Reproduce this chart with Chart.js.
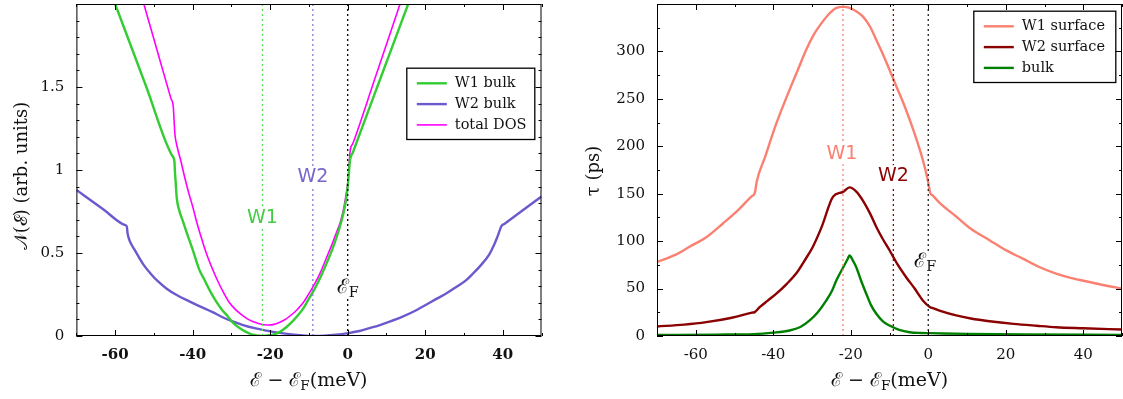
<!DOCTYPE html>
<html>
<head>
<meta charset="utf-8">
<title>DOS and lifetime</title>
<script src="https://cdn.jsdelivr.net/npm/chart.js@4.4.1/dist/chart.umd.min.js"></script>
<style>
  html, body { margin: 0; padding: 0; background: #fff; }
  #wrap { position: relative; width: 1123px; height: 399px; }
  #dosChart { position: absolute; left: 0; top: 0; width: 560px; height: 399px; }
  #tauChart { position: absolute; left: 560px; top: 0; width: 563px; height: 399px; }
</style>
</head>
<body>
<div id="wrap">
  <canvas id="dosChart" width="560" height="399"></canvas>
  <canvas id="tauChart" width="563" height="399"></canvas>
</div>
<script>
// ==================== DATA ====================
// left panel: density of states vs E - EF (meV)
const w1BulkE = [-60, -52, -45.3, -44.7, -44.6, -44.4, -44.1, -43.5, -42.5, -41.5, -40, -38.3, -37, -35.5, -34, -32.5, -31, -29.5, -28, -26.5, -25, -23.5, -22, -20.5, -19, -17.5, -16, -14.5, -13, -11.5, -10, -8.5, -7, -5.5, -4, -2.8, -2, -1.2, -0.5, 0, 0.3, 0.6, 1.3, 8, 15.6];
const w1BulkN = [2.0, 1.503, 1.087, 1.05, 1.0, 0.93, 0.83, 0.76, 0.69, 0.62, 0.52, 0.40, 0.34, 0.27, 0.21, 0.16, 0.12, 0.077, 0.05, 0.028, 0.012, 0.003, 0, 0.003, 0.01, 0.025, 0.05, 0.082, 0.12, 0.165, 0.225, 0.285, 0.355, 0.435, 0.52, 0.6, 0.66, 0.73, 0.81, 0.9, 0.98, 1.06, 1.104, 1.524, 2.0];

const w2BulkE = [-70, -63, -57.6, -57, -56.8, -56.5, -56, -55, -54, -52.7, -51, -49, -46.7, -44, -41, -38.3, -35, -32, -29.5, -27, -24, -20.9, -18, -15, -12.3, -10, -8.5, -6, -3, -0.3, 3, 6, 8.3, 11, 14, 16.9, 20, 23, 25.5, 28, 30.5, 32.4, 34.5, 36.5, 37.6, 38.5, 39.2, 39.7, 40.4, 45, 50];
const w2BulkN = [0.88, 0.762, 0.67, 0.66, 0.62, 0.59, 0.56, 0.52, 0.48, 0.43, 0.38, 0.33, 0.285, 0.245, 0.21, 0.18, 0.145, 0.11, 0.086, 0.066, 0.047, 0.032, 0.02, 0.011, 0.005, 0.001, 0, 0.002, 0.008, 0.016, 0.03, 0.05, 0.066, 0.088, 0.115, 0.146, 0.185, 0.225, 0.257, 0.295, 0.335, 0.378, 0.43, 0.49, 0.54, 0.59, 0.635, 0.663, 0.675, 0.754, 0.84];

const totalE = [-52.6, -49, -45.6, -45, -44.8, -44.6, -44, -43, -42, -41, -40, -39, -38, -36.5, -35, -33.5, -32, -30.5, -29, -27.5, -26, -24.5, -23, -21.5, -20.5, -19, -17.5, -16, -14.5, -13, -11.5, -10, -8.5, -7, -5.5, -4, -2.8, -2, -1.2, -0.5, 0, 0.3, 0.6, 1.3, 7, 13.5];
const totalN = [2.0, 1.706, 1.43, 1.38, 1.3, 1.22, 1.14, 1.05, 0.95, 0.86, 0.78, 0.69, 0.61, 0.5, 0.41, 0.33, 0.26, 0.2, 0.16, 0.13, 0.105, 0.087, 0.075, 0.068, 0.066, 0.07, 0.083, 0.102, 0.128, 0.16, 0.2, 0.255, 0.315, 0.385, 0.47, 0.555, 0.63, 0.68, 0.75, 0.84, 0.92, 1.0, 1.11, 1.158, 1.55, 2.0];

// right panel: lifetime tau (ps) vs E - EF (meV)
const w1SurfE = [-70, -65, -61.6, -57, -53, -49, -45.5, -44.8, -44.2, -42, -40.1, -38, -35.8, -33.5, -31.5, -29.5, -27.2, -25.5, -23.7, -22, -20.3, -18.5, -16.9, -15, -13.4, -11.7, -10, -8, -5.7, -3.5, -1.4, -0.1, 0.5, 1.2, 3, 7.2, 11, 15.8, 20, 24.4, 28.5, 33, 37, 41.6, 46, 50];
const w1SurfTau = [78, 86, 94, 105, 118.6, 133, 147.5, 150.3, 164, 190, 213.7, 237, 259.5, 282, 301.8, 318, 331.7, 340, 346, 347, 346, 342, 337, 326, 312, 297, 280.6, 261, 238, 213, 185.5, 164, 151, 148, 140, 126, 113, 101, 90.5, 81.6, 73, 65.7, 61, 56.9, 53, 50];

const w2SurfE = [-70, -63, -57.3, -51, -45.5, -44.8, -43.5, -41.5, -39.2, -36.5, -34.1, -32, -29.8, -27.5, -24.6, -22, -20.3, -18.5, -16.9, -15, -13.4, -11.7, -10, -8, -5.7, -3.5, -1.4, 0.5, 1.2, 3.5, 7.2, 11, 15.8, 22, 28, 33, 40, 50];
const w2SurfTau = [10, 12, 14.6, 19, 24.6, 25.2, 30.4, 37, 44.6, 55, 65.8, 79, 93.9, 115, 146.7, 152, 156.7, 152, 143, 129, 115, 102, 90.4, 76, 62, 50, 37.5, 30.4, 29.4, 26, 21.7, 18.5, 15.6, 12.8, 10.8, 9.3, 8.2, 6.8];

const bulkE = [-70, -55, -45, -40, -35.8, -33, -30.6, -28.5, -26.3, -24.8, -23.7, -22, -20.7, -20.3, -19.9, -19.5, -18.6, -17.3, -16, -14.7, -13.4, -11.7, -10, -7.5, -4.8, -2, 0.5, 10, 25, 50];
const bulkTau = [1, 1.5, 2, 3.5, 5.8, 9.5, 16.4, 25, 37.5, 48, 58.7, 72, 82, 85, 83, 80, 72.7, 58, 44.6, 32, 23.5, 15.5, 11, 6.5, 4, 3.2, 3, 2.2, 1.6, 1.2];

// marker lines: W1, W2 minima and the Fermi level
const markerE = [-22, -9, 0];

// ==================== HELPERS ====================
const serif = '"DejaVu Serif", serif';
const sans = '"DejaVu Sans", sans-serif';

function pts(xs, ys) { return xs.map((x, i) => ({ x: x, y: ys[i] })); }

function curve(label, xs, ys, color, width) {
    return { label: label, data: pts(xs, ys), borderColor: color, backgroundColor: color, borderWidth: width,
             pointRadius: 0, cubicInterpolationMode: 'monotone', borderJoinStyle: 'round', fill: false };
}

function marker(x, top, color) {
    return { label: '', data: [{ x: x, y: 0 }, { x: x, y: top }], borderColor: color, borderWidth: 1.3,
             borderDash: [2, 3], pointRadius: 0, tension: 0, fill: false };
}

// text with an optional subscript, centred on (cx, cy)
function subText(ctx, main, sub, cx, cy, size, font, color, box) {
    const subSize = size * 0.72;
    ctx.font = size + 'px ' + font;
    const w1 = ctx.measureText(main).width;
    ctx.font = subSize + 'px ' + font;
    const w2 = sub ? ctx.measureText(sub).width : 0;
    const x0 = cx - (w1 + w2) / 2;
    if (box) {
        ctx.fillStyle = '#fff';
        ctx.fillRect(x0 - 1, cy - size * 0.55, w1 + w2 + 2, size * 1.1);
    }
    ctx.fillStyle = color;
    ctx.textBaseline = 'middle';
    ctx.textAlign = 'left';
    ctx.font = size + 'px ' + font;
    ctx.fillText(main, x0, cy);
    if (sub) {
        ctx.font = subSize + 'px ' + font;
        ctx.fillText(sub, x0 + w1, cy + size * 0.28);
    }
}

// frame, inward ticks, annotations, legend, axis titles
const decorPlugin = {
    id: 'decor',
    afterDatasetsDraw(chart, args, opts) {
        const ctx = chart.ctx, a = chart.chartArea;
        const xs = chart.scales.x, ys = chart.scales.y;
        ctx.save();

        // annotation labels
        opts.notes.forEach(n => {
            subText(ctx, n.text, n.sub, xs.getPixelForValue(n.x), ys.getPixelForValue(n.y), n.size, n.font, n.color, true);
        });

        // frame + ticks
        ctx.strokeStyle = '#000';
        ctx.lineWidth = 1;
        ctx.strokeRect(a.left + 0.5, a.top + 0.5, a.right - a.left - 1, a.bottom - a.top - 1);
        ctx.beginPath();
        xs.ticks.forEach(t => {
            const px = Math.round(xs.getPixelForValue(t.value)) + 0.5;
            const len = t.label !== '' ? 6 : 3;
            ctx.moveTo(px, a.bottom); ctx.lineTo(px, a.bottom - len);
            ctx.moveTo(px, a.top); ctx.lineTo(px, a.top + len);
        });
        ys.ticks.forEach(t => {
            const py = Math.round(ys.getPixelForValue(t.value)) + 0.5;
            const len = t.label !== '' ? 6 : 3;
            ctx.moveTo(a.left, py); ctx.lineTo(a.left + len, py);
            ctx.moveTo(a.right, py); ctx.lineTo(a.right - len, py);
        });
        ctx.stroke();

        // legend box
        const lg = opts.legend;
        const bx = a.right - lg.right - lg.w, by = a.top + lg.top;
        ctx.fillStyle = '#fff';
        ctx.fillRect(bx, by, lg.w, lg.h);
        ctx.lineWidth = 1.3;
        ctx.strokeStyle = '#000';
        ctx.strokeRect(bx + 0.5, by + 0.5, lg.w, lg.h);
        lg.items.forEach((idx, i) => {
            const ds = chart.data.datasets[idx];
            const yy = by + 15.6 + i * 20.8;
            ctx.strokeStyle = ds.borderColor;
            ctx.lineWidth = ds.borderWidth;
            ctx.setLineDash([]);
            ctx.beginPath();
            ctx.moveTo(bx + 10.5, yy); ctx.lineTo(bx + 40.5, yy);
            ctx.stroke();
            ctx.fillStyle = '#111';
            ctx.font = '14.5px ' + serif;
            ctx.textBaseline = 'middle';
            ctx.textAlign = 'left';
            ctx.fillText(ds.label, bx + 48.5, yy);
        });

        // x axis title
        const cx = (a.left + a.right) / 2;
        ctx.font = '19px ' + serif;
        const partA = 'ℰ − ℰ', partC = '(meV)';
        const wA = ctx.measureText(partA).width, wC = ctx.measureText(partC).width;
        ctx.font = '13.5px ' + serif;
        const wB = ctx.measureText('F').width;
        const x0 = cx - (wA + wB + wC) / 2;
        ctx.fillStyle = '#111';
        ctx.textBaseline = 'middle';
        ctx.textAlign = 'left';
        ctx.font = '19px ' + serif;
        ctx.fillText(partA, x0, 381);
        ctx.font = '13.5px ' + serif;
        ctx.fillText('F', x0 + wA, 386);
        ctx.font = '19px ' + serif;
        ctx.fillText(partC, x0 + wA + wB, 381);

        // y axis title
        ctx.translate(opts.yTitleX, opts.yTitleY);
        ctx.rotate(-Math.PI / 2);
        ctx.textAlign = 'center';
        ctx.font = '18px ' + serif;
        ctx.fillText(opts.yTitle, 0, 0);
        ctx.restore();
    }
};

function axes(yMax, yStep, yLabel, yWidth, xWeight) {
    return {
        x: {
            type: 'linear', min: -70, max: 50,
            grid: { display: false, drawTicks: false }, border: { display: false },
            ticks: { stepSize: 10, autoSkip: false, maxRotation: 0, padding: 10, color: '#111',
                     font: { family: serif, size: 15, weight: xWeight },
                     callback: v => (Math.round(v) % 20 === 0 ? String(Math.round(v)) : '') },
            afterFit: s => { s.height = 63; s.paddingLeft = 0; s.paddingRight = 0; }
        },
        y: {
            type: 'linear', min: 0, max: yMax,
            grid: { display: false, drawTicks: false }, border: { display: false },
            ticks: { stepSize: yStep, autoSkip: false, padding: 12, color: '#111',
                     font: { family: serif, size: 15 }, callback: yLabel },
            afterFit: s => { s.width = yWidth; s.paddingTop = 0; s.paddingBottom = 0; }
        }
    };
}

// ==================== LEFT: DENSITY OF STATES ====================
new Chart(document.getElementById('dosChart'), {
    type: 'line',
    data: {
        datasets: [
            marker(markerE[0], 2, '#55dd55'),
            marker(markerE[1], 2, '#8878dd'),
            marker(markerE[2], 2, '#000000'),
            curve('W1 bulk', w1BulkE, w1BulkN, '#33cc33', 2.4),
            curve('W2 bulk', w2BulkE, w2BulkN, '#6a5acd', 2.4),
            curve('total DOS', totalE, totalN, '#ff00ff', 1.6)
        ]
    },
    options: {
        responsive: false, animation: false,
        layout: { padding: { top: 4, right: 18.5, left: 0, bottom: 0 } },
        scales: axes(2, 0.1, v => {
            const r = Math.round(v * 10) / 10;
            return (Math.abs(r * 2 - Math.round(r * 2)) < 1e-6 && r < 1.99) ? String(r) : '';
        }, 76.4, 'bold'),
        plugins: {
            legend: { display: false }, tooltip: { enabled: false },
            decor: {
                notes: [
                    { text: 'W1', x: -22, y: 0.71, size: 19, font: sans, color: '#44cc44' },
                    { text: 'W2', x: -9, y: 0.96, size: 19, font: sans, color: '#7766cc' },
                    { text: 'ℰ', sub: 'F', x: 0, y: 0.29, size: 20, font: serif, color: '#111' }
                ],
                legend: { right: 7.2, top: 63.7, w: 128, h: 71.3, items: [3, 4, 5] },
                yTitle: '𝒩(ℰ) (arb. units)', yTitleX: 22, yTitleY: 176
            }
        }
    },
    plugins: [decorPlugin]
});

// ==================== RIGHT: LIFETIME ====================
new Chart(document.getElementById('tauChart'), {
    type: 'line',
    data: {
        datasets: [
            marker(markerE[0], 350, '#fa8072'),
            marker(markerE[1], 350, '#8b0000'),
            marker(markerE[2], 350, '#222222'),
            curve('W1 surface', w1SurfE, w1SurfTau, '#fa8072', 2.4),
            curve('W2 surface', w2SurfE, w2SurfTau, '#8b0000', 2.4),
            curve('bulk', bulkE, bulkTau, '#008000', 2.4)
        ]
    },
    options: {
        responsive: false, animation: false,
        layout: { padding: { top: 4, right: 1, left: 0, bottom: 0 } },
        scales: axes(350, 25, v => (v % 50 === 0 && v < 350 ? String(v) : ''), 97, 'normal'),
        plugins: {
            legend: { display: false }, tooltip: { enabled: false },
            decor: {
                notes: [
                    { text: 'W1', x: -22.3, y: 192, size: 19, font: sans, color: '#fa8072' },
                    { text: 'W2', x: -9, y: 169, size: 19, font: sans, color: '#8b0000' },
                    { text: 'ℰ', sub: 'F', x: -0.8, y: 78, size: 20, font: serif, color: '#111' }
                ],
                legend: { right: 6.7, top: 6.7, w: 142, h: 71.3, items: [3, 4, 5] },
                yTitle: 'τ (ps)', yTitleX: 34, yTitleY: 171
            }
        }
    },
    plugins: [decorPlugin]
});
</script>
</body>
</html>
